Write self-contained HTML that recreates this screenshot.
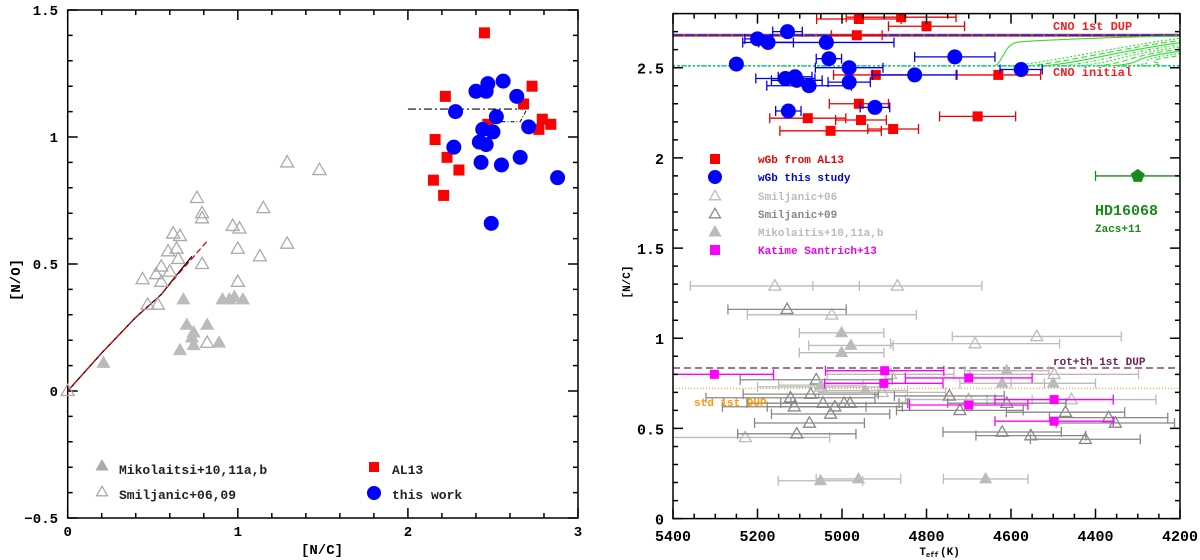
<!DOCTYPE html>
<html><head><meta charset="utf-8">
<style>
html,body{margin:0;padding:0;background:#fff;}
svg{display:block;font-family:"Liberation Mono","DejaVu Sans Mono",monospace;font-weight:bold;}
</style></head>
<body>
<svg id="fig" width="1200" height="560" viewBox="0 0 1200 560" xmlns="http://www.w3.org/2000/svg">
<g id="left"></g>
<g id="right"></g>
</svg>
<script>
const alNC = [2.45,2.73,2.22,2.68,2.79,2.84,2.77,2.16,2.23,2.30,2.15,2.21,2.47];
const alNO = [1.41,1.20,1.16,1.13,1.07,1.05,1.03,0.99,0.92,0.87,0.83,0.77,1.05];
const twNC = [2.40,2.47,2.46,2.56,2.64,2.28,2.52,2.71,2.44,2.50,2.27,2.42,2.46,2.66,2.43,2.55,2.88,2.49];
const twNO = [1.18,1.21,1.18,1.22,1.16,1.10,1.08,1.04,1.03,1.02,0.96,0.98,0.97,0.92,0.90,0.89,0.84,0.66];
const smNC = [0.62,0.66,0.76,0.79,0.79,0.59,0.64,0.65,0.55,0.52,0.44,0.55,0.60,0.47,0.53,0.79,0.97,1.01,1.00,1.00,1.15,1.13,1.29,1.48,1.29,0.82,0.00];
const smNO = [0.62,0.61,0.76,0.70,0.68,0.55,0.56,0.52,0.49,0.46,0.44,0.43,0.47,0.34,0.34,0.50,0.65,0.64,0.56,0.43,0.72,0.53,0.90,0.87,0.58,0.19,0.00];
const miNC = [0.68,0.70,0.74,0.73,0.74,0.66,0.82,0.89,0.91,0.95,0.98,1.03,0.21];
const miNO = [0.36,0.26,0.23,0.21,0.18,0.16,0.26,0.19,0.36,0.36,0.37,0.36,0.11];
const modelBlackNC = [0,0.2,0.4,0.55,0.62,0.73];
const modelBlackNO = [0,0.15,0.29,0.38,0.44,0.53];
const modelRedNC = [0,0.2,0.4,0.55,0.65,0.82];
const modelRedNO = [0,0.15,0.29,0.38,0.46,0.59];
const dashHiNC = [2.0,2.7]; const dashHiNO = [1.11,1.11];
const dashLoNC = [2.55,2.66,2.7]; const dashLoNO = [1.06,1.06,1.11];
const leftXTicks = [0,1,2,3]; const leftXLabels = ["0","1","2","3"];
const leftYTicks = [-0.5,0,0.5,1,1.5]; const leftYLabels = ["\u22120.5","0","0.5","1","1.5"];

const rAlT = [4960,4860,4800,4965,4920,4630,4960,4679,5081,4955,4879,5027];
const rAlNC = [2.77,2.78,2.73,2.68,2.46,2.46,2.30,2.23,2.22,2.21,2.16,2.15];
const rAlE = [100,130,90,60,100,100,70,90,90,60,60,120];
const rTwT = [5129,5200,5175,5037,5250,5031,4733,4983,4576,4828,5134,5111,5107,5078,4983,5127,4922];
const rTwNC = [2.70,2.66,2.64,2.64,2.52,2.55,2.56,2.50,2.49,2.46,2.44,2.45,2.43,2.40,2.42,2.26,2.28];
const rTwE = [35,30,60,160,10,30,95,80,50,100,70,40,60,100,50,30,35];
const ksT = [5302,4899,4901,4700,4700,4498,4498];
const ksNC = [0.80,0.82,0.75,0.78,0.63,0.66,0.54];
const ksE = [140,140,140,150,140,140,140];
const sm06T = [5159,4869,5024,4539,4685,5229,4885,4498,4457,5050,4905,4700];
const sm06NC = [1.29,1.29,1.13,1.01,0.97,0.45,0.80,0.80,0.66,0.73,0.70,0.66];
const sm06E = [200,200,200,200,200,200,150,200,200,150,150,150];
const sm09T = [5130,5061,5074,5122,5113,5045,5017,4995,5027,4981,5077,5107,4746,4721,4610,4621,4553,4471,4424,4369,4353];
const sm09NC = [1.16,0.77,0.69,0.67,0.62,0.64,0.62,0.64,0.58,0.64,0.53,0.47,0.68,0.60,0.64,0.48,0.46,0.59,0.44,0.56,0.53];
const sm09E = [140,180,160,200,170,180,160,150,140,140,130,140,130,150,140,140,130,140,130,140,140];
const miT = [5001,4979,5001,5051,4961,4660,4610,4621,4500,4945,5050];
const miNCr = [1.03,0.96,0.92,0.21,0.22,0.22,0.82,0.75,0.75,0.71,0.74];
const miE = [100,100,100,100,100,100,100,100,100,100,100];
const hdT = [4300]; const hdNC = [1.90]; const hdE = [100];
const cnoDup = 2.68, cnoInit = 2.51, rotDup = 0.835, stdDup = 0.722;
const greenStartT = [4643,4600,4560,4520,4480,4440,4400,4360,4320,4280];
const rightXTicks = [5400,5200,5000,4800,4600,4400,4200];
const rightXLabels = ["5400","5200","5000","4800","4600","4400","4200"];
const rightYTicks = [0,0.5,1,1.5,2,2.5];
const rightYLabels = ["0","0.5","1","1.5","2","2.5"];

const NS="http://www.w3.org/2000/svg";
function mk(tag, attrs, parent){const e=document.createElementNS(NS,tag);for(const k in attrs)e.setAttribute(k,attrs[k]);parent.appendChild(e);return e;}

const L={x0:67.7,x1:578,y0:518,y1:10,xmin:0,xmax:3,ymin:-0.5,ymax:1.5};
const lx=v=>L.x0+(v-L.xmin)/(L.xmax-L.xmin)*(L.x1-L.x0);
const ly=v=>L.y0-(v-L.ymin)/(L.ymax-L.ymin)*(L.y0-L.y1);
const R={x0:673,x1:1180,y0:518.6,y1:13.6,xmin:5400,xmax:4200,ymin:0,ymax:2.8};
const rx=v=>R.x0+(v-R.xmin)/(R.xmax-R.xmin)*(R.x1-R.x0);
const ry=v=>R.y0-(v-R.ymin)/(R.ymax-R.ymin)*(R.y0-R.y1);

function tri(g,x,y,s,fill,stroke){const h=s*0.87;return mk('polygon',{points:`${x},${y-h*0.6} ${x-s/2},${y+h*0.4} ${x+s/2},${y+h*0.4}`,fill:fill,stroke:stroke,'stroke-width':1.3},g);}
function sq(g,x,y,s,fill){return mk('rect',{x:x-s/2,y:y-s/2,width:s,height:s,fill:fill},g);}
function circ(g,x,y,r,fill){return mk('circle',{cx:x,cy:y,r:r,fill:fill},g);}
function poly(g,xs,ys,fx,fy,attrs){let p=xs.map((v,i)=>fx(v)+','+fy(ys[i])).join(' ');attrs.points=p;attrs.fill='none';return mk('polyline',attrs,g);}

function frame(g,P,fx,fy,xmaj,xmin,ymaj,ymin,xr,yr){
  const b=mk('rect',{x:P.x0,y:P.y1,width:P.x1-P.x0,height:P.y0-P.y1,fill:'none',stroke:'#000','stroke-width':1.5},g);
  
  
  let d='';
  const xs=Math.min(xr[0],xr[1]),xe=Math.max(xr[0],xr[1]);
  for(let v=xs;v<=xe+1e-9;v+=xmin){const X=fx(v);const maj=Math.abs(v/xmaj-Math.round(v/xmaj))<1e-6;const L=maj?10:5;d+=`M${X},${P.y0}v${-L}M${X},${P.y1}v${L}`;}
  for(let v=yr[0];v<=yr[1]+1e-9;v+=ymin){const Y=fy(v);const maj=Math.abs(v/ymaj-Math.round(v/ymaj))<1e-6;const L=maj?10:5;d+=`M${P.x0},${Y}h${L}M${P.x1},${Y}h${-L}`;}
  const t=mk('path',{d:d,stroke:'#000','stroke-width':1.5,fill:'none'},g);
  
  
}
function txt(g,x,y,s,size,fill,anchor,extra){const e=mk('text',Object.assign({x:x,y:y,'font-size':size,fill:fill,'text-anchor':anchor||'start'},extra||{}),g);e.textContent=s;return e;}

const gl=document.getElementById('left');
frame(gl,L,lx,ly,1,0.2,0.5,0.1,[0,3],[-0.5,1.5]);
leftXTicks.forEach((v,i)=>{const e=txt(gl,lx(v),536,leftXLabels[i],14,'#000','middle');

});
leftYTicks.forEach((v,i)=>{const e=txt(gl,58,ly(v)+5,leftYLabels[i],14,'#000','end');

});
let e;
e=txt(gl,322,554,'[N/C]',14,'#000','middle');


e=txt(gl,20,280,'[N/O]',14,'#000','middle',{transform:'rotate(-90 20 280)'});


e=poly(gl,modelBlackNC,modelBlackNO,lx,ly,{stroke:'#000','stroke-width':1.3});


e=poly(gl,modelRedNC,modelRedNO,lx,ly,{stroke:'#e00','stroke-width':1.3,'stroke-dasharray':'6,3'});


e=poly(gl,dashHiNC,dashHiNO,lx,ly,{stroke:'#000','stroke-width':1.2,'stroke-dasharray':'8,3,2,3'});


e=poly(gl,dashLoNC,dashLoNO,lx,ly,{stroke:'#000','stroke-width':1,'stroke-dasharray':'4,2,1,2'});


smNC.forEach((v,i)=>{const m=tri(gl,lx(v),ly(smNO[i]),13,'none','#aaa');

});
miNC.forEach((v,i)=>{const m=tri(gl,lx(v),ly(miNO[i]),12,'#bbb','#bbb');

});
alNC.forEach((v,i)=>{const m=sq(gl,lx(v),ly(alNO[i]),11,'#f00');

});
twNC.forEach((v,i)=>{const m=circ(gl,lx(v),ly(twNO[i]),7.5,'#00f');

});
e=tri(gl,102,466,11,'#aaa','#aaa');


e=txt(gl,119,474,'Mikolaitsi+10,11a,b',13,'#222');


e=tri(gl,102,492,11,'none','#aaa');


e=txt(gl,119,499,'Smiljanic+06,09',13,'#222');


e=sq(gl,374,467,10,'#f00');


e=txt(gl,392,474,'AL13',13,'#222');


e=circ(gl,374,493,7,'#00f');


e=txt(gl,392,499,'this work',13,'#222');



const gr=document.getElementById('right');
const clip=mk('clipPath',{id:'rc'},gr);mk('rect',{x:R.x0,y:R.y1,width:R.x1-R.x0,height:R.y0-R.y1},clip);
const gin=mk('g',{'clip-path':'url(#rc)'},gr);


frame(gr,R,rx,ry,200,50,0.5,0.1,[4200,5400],[0,2.8]);
rightXTicks.forEach((v,i)=>{const t=txt(gr,rx(v),541,rightXLabels[i],15,'#000','middle');

});
rightYTicks.forEach((v,i)=>{const t=txt(gr,664,ry(v)+6,rightYLabels[i],15,'#000','end');

});
e=txt(gr,926,555,'T',11,'#000','end');


e=txt(gr,926,557,'eff',7,'#000');


e=txt(gr,940,555,'(K)',11,'#000');


e=txt(gr,630,282,'[N/C]',11,'#000','middle',{transform:'rotate(-90 630 282)'});



function hline(val,attrs,name){const l=mk('line',Object.assign({x1:R.x0,x2:R.x1,y1:ry(val),y2:ry(val)},attrs),gin);

}
hline(cnoDup,{stroke:'#c44','stroke-width':3},'cno-1st-dup-line-red');
hline(cnoDup,{stroke:'#22c','stroke-width':1.5,'stroke-dasharray':'10,2'},'cno-1st-dup-line-blue');
hline(cnoInit,{stroke:'#0cf','stroke-width':1.5,'stroke-dasharray':'2,2'},'cno-initial-line-cyan');
hline(cnoInit,{stroke:'#2c2','stroke-width':1.5,'stroke-dasharray':'2,3'},'cno-initial-line-green');
hline(rotDup,{stroke:'#702050','stroke-width':1.3,'stroke-dasharray':'7,4'},'rot-th-1st-dup-line');
hline(stdDup,{stroke:'#f90','stroke-width':1,'stroke-dasharray':'1,2'},'std-1st-dup-line');
greenStartT.forEach((T,i)=>{
  const x0=rx(T),y0=ry(cnoInit),x1=rx(4200),y1=ry(cnoDup-0.005-i*0.012);
  const steep=i===0;
  const d=steep?`M${x0},${y0} C${x0+10},${y0} ${x0+10},${y1+8} ${x0+25},${y1+6} S${x1-40},${y1} ${x1},${y1}`:`M${x0},${y0} C${x0+40},${y0-4} ${x1-60},${y1+8} ${x1},${y1}`;
  const p=mk('path',{d:d,fill:'none',stroke:'#3d3','stroke-width':1.1,'stroke-dasharray':['','2,2','6,3','','3,2,1,2','2,2','6,3','','2,2','5,3'][i]},gin);
  
  
});
function errbar(g,T,v,err,col,name){
  const X1=rx(T+err),X2=rx(T-err),Y=ry(v);
  const p=mk('path',{d:`M${X1},${Y}H${X2}M${X1},${Y-5}v10M${X2},${Y-5}v10`,stroke:col,'stroke-width':1.3,fill:'none'},g);
  
  
}
sm06T.forEach((T,i)=>{errbar(gin,T,sm06NC[i],sm06E[i],'#bbb','smiljanic06-errorbar');
const m=tri(gin,rx(T),ry(sm06NC[i]),12,'none','#bbb');

});
sm09T.forEach((T,i)=>{errbar(gin,T,sm09NC[i],sm09E[i],'#888','smiljanic09-errorbar');
const m=tri(gin,rx(T),ry(sm09NC[i]),12,'none','#888');

});
miT.forEach((T,i)=>{errbar(gin,T,miNCr[i],miE[i],'#bbb','mikolaitis-errorbar');
const m=tri(gin,rx(T),ry(miNCr[i]),11,'#bbb','#bbb');

});
ksT.forEach((T,i)=>{errbar(gin,T,ksNC[i],ksE[i],'#f0f','katime-errorbar');
const m=sq(gin,rx(T),ry(ksNC[i]),9,'#f0f');

});
rAlT.forEach((T,i)=>{errbar(gin,T,rAlNC[i],rAlE[i],'#e00','al13-errorbar');
const m=sq(gin,rx(T),ry(rAlNC[i]),10,'#f00');

});
rTwT.forEach((T,i)=>{errbar(gin,T,rTwNC[i],rTwE[i],'#00e','this-study-errorbar');
const m=circ(gin,rx(T),ry(rTwNC[i]),7.5,'#00f');

});
hdT.forEach((T,i)=>{errbar(gin,T,hdNC[i],hdE[i],'#1a8a1a','hd16068-errorbar');
const X=rx(T),Y=ry(hdNC[i]);
const m=mk('polygon',{points:`${X},${Y-7} ${X+7},${Y-2} ${X+4},${Y+6} ${X-4},${Y+6} ${X-7},${Y-2}`,fill:'#1a8a1a'},gin);

});

e=txt(gr,1053,30,'CNO 1st DUP',12,'#e22');


e=txt(gr,1053,76,'CNO initial',12,'#e22');


e=txt(gr,1053,365,'rot+th 1st DUP',11,'#702050');


e=txt(gr,694,406,'std 1st DUP',11,'#f90');


e=txt(gr,1095,215,'HD16068',15,'#1a8a1a');


e=txt(gr,1095,232,'Zacs+11',11,'#1a8a1a');


const lg=mk('g',{},gr);


const legY=[159,177,196,214,232,250];
e=sq(lg,715,legY[0],10,'#f00');

e=circ(lg,715,legY[1],7,'#00f');

e=tri(lg,715,legY[2],11,'none','#bbb');

e=tri(lg,715,legY[3],11,'none','#888');

e=tri(lg,715,legY[4],11,'#bbb','#bbb');

e=sq(lg,715,legY[5],10,'#f0f');

const legTxt=['wGb from AL13','wGb this study','Smiljanic+06','Smiljanic+09','Mikolaitis+10,11a,b','Katime Santrich+13'];
const legCol=['#e00','#00d','#bbb','#888','#bbb','#e0e'];
legTxt.forEach((s,i)=>{const t=txt(lg,758,legY[i]+4,s,11,legCol[i]);

});
</script>
</body></html>
